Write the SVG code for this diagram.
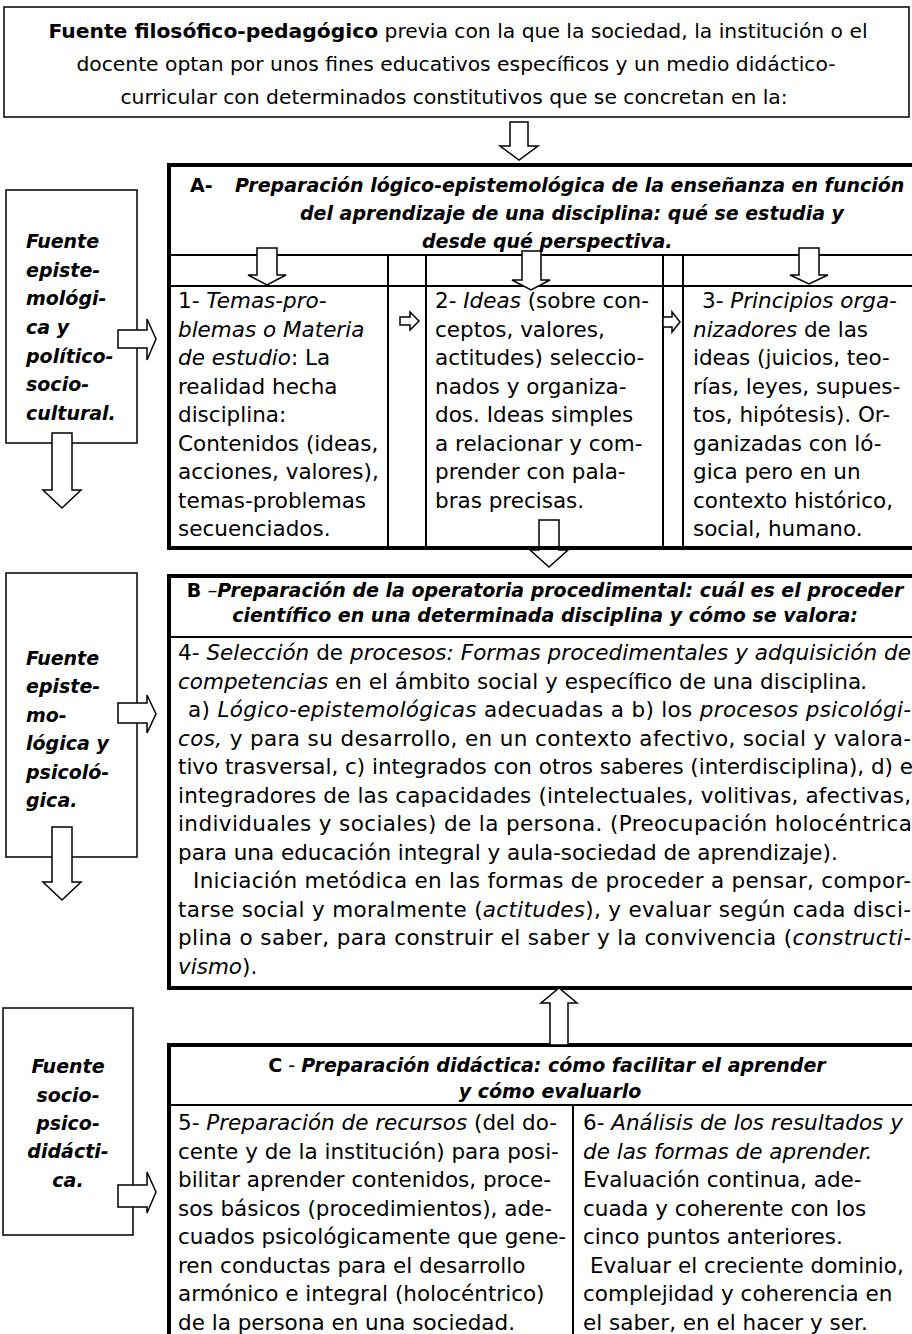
<svg xmlns="http://www.w3.org/2000/svg" width="912" height="1334" viewBox="0 0 912 1334">
<style>
.box{fill:#fff;stroke:#000;stroke-width:1.5}
.main{fill:#fff;stroke:#000;stroke-width:4}
.ln{stroke:#000;stroke-width:2;fill:none}
.arr{fill:#fff;stroke:#000;stroke-width:1.5;stroke-linejoin:miter}
.arrn{fill:none;stroke:#000;stroke-width:1.5;stroke-linejoin:miter}
.t{font-family:"DejaVu Sans",Verdana,sans-serif;font-size:21.5px;fill:#000}
.h{font-family:"DejaVu Sans",Verdana,sans-serif;font-size:19px;font-weight:bold;font-style:italic;fill:#000}
.top{font-family:"DejaVu Sans",Verdana,sans-serif;font-size:20.3px;fill:#000}
.i{font-style:italic}
.b{font-weight:bold}
.up{font-style:normal}
.nb{font-style:normal;font-weight:normal}
</style>
<rect x="0" y="0" width="912" height="1334" fill="#fff"/>

<g id="node-top">
<rect class="box" x="4" y="7" width="905" height="110"/>
<text class="top" x="458" y="38" text-anchor="middle"><tspan class="b">Fuente filosófico-pedagógico</tspan> previa con la que la sociedad, la institución o el</text>
<text class="top" x="456" y="71" text-anchor="middle">docente optan por unos fines educativos específicos y un medio didáctico-</text>
<text class="top" x="454" y="104" text-anchor="middle">curricular con determinados constitutivos que se concretan en la:</text>
</g>

<g id="node-fuente1">
<rect class="box" x="6" y="190" width="131" height="253"/>
<text class="h" x="26" y="248">Fuente</text>
<text class="h" x="26" y="277">episte-</text>
<text class="h" x="26" y="305">mológi-</text>
<text class="h" x="26" y="334">ca y</text>
<text class="h" x="26" y="363">político-</text>
<text class="h" x="26" y="391">socio-</text>
<text class="h" x="26" y="420">cultural.</text>
</g>

<g id="node-fuente2">
<rect class="box" x="6" y="573" width="131" height="284"/>
<text class="h" x="26" y="665">Fuente</text>
<text class="h" x="26" y="693">episte-</text>
<text class="h" x="26" y="722">mo-</text>
<text class="h" x="26" y="750">lógica y</text>
<text class="h" x="26" y="779">psicoló-</text>
<text class="h" x="26" y="807">gica.</text>
</g>

<g id="node-fuente3">
<rect class="box" x="3" y="1008" width="130" height="227"/>
<text class="h" x="68" y="1073" text-anchor="middle">Fuente</text>
<text class="h" x="68" y="1102" text-anchor="middle">socio-</text>
<text class="h" x="68" y="1130" text-anchor="middle">psico-</text>
<text class="h" x="68" y="1158" text-anchor="middle">didácti-</text>
<text class="h" x="68" y="1187" text-anchor="middle">ca.</text>
</g>

<g id="node-A">
<rect class="main" x="169" y="165" width="760" height="383"/>
<line class="ln" x1="169" y1="255" x2="920" y2="255"/>
<line class="ln" x1="169" y1="286" x2="920" y2="286"/>
<line class="ln" x1="388" y1="255" x2="388" y2="548"/>
<line class="ln" x1="426" y1="255" x2="426" y2="548"/>
<line class="ln" x1="663" y1="255" x2="663" y2="548"/>
<line class="ln" x1="683" y1="255" x2="683" y2="548"/>
<text class="h" y="192"><tspan class="up" x="190">A-</tspan><tspan x="235">Preparación lógico-epistemológica de la enseñanza en función</tspan></text>
<text class="h" x="300" y="220">del aprendizaje de una disciplina: qué se estudia y</text>
<text class="h" x="422" y="248">desde qué perspectiva.</text>
<g id="node-A1">
<text class="t" x="178" y="308">1- <tspan class="i">Temas-pro-</tspan></text>
<text class="t i" x="178" y="336.5">blemas o Materia</text>
<text class="t" x="178" y="365"><tspan class="i">de estudio</tspan>: La</text>
<text class="t" x="178" y="393.5">realidad hecha</text>
<text class="t" x="178" y="422">disciplina:</text>
<text class="t" x="178" y="450.5">Contenidos (ideas,</text>
<text class="t" x="178" y="479">acciones, valores),</text>
<text class="t" x="178" y="507.5">temas-problemas</text>
<text class="t" x="178" y="536">secuenciados.</text>
</g>
<g id="node-A2">
<text class="t" x="435" y="308">2- <tspan class="i">Ideas</tspan> (sobre con-</text>
<text class="t" x="435" y="336.5">ceptos, valores,</text>
<text class="t" x="435" y="365">actitudes) seleccio-</text>
<text class="t" x="435" y="393.5">nados y organiza-</text>
<text class="t" x="435" y="422">dos. Ideas simples</text>
<text class="t" x="435" y="450.5">a relacionar y com-</text>
<text class="t" x="435" y="479">prender con pala-</text>
<text class="t" x="435" y="507.5">bras precisas.</text>
</g>
<g id="node-A3">
<text class="t" x="702" y="308">3- <tspan class="i">Principios orga-</tspan></text>
<text class="t" x="693" y="336.5"><tspan class="i">nizadores</tspan> de las</text>
<text class="t" x="693" y="365">ideas (juicios, teo-</text>
<text class="t" x="693" y="393.5">rías, leyes, supues-</text>
<text class="t" x="693" y="422">tos, hipótesis). Or-</text>
<text class="t" x="693" y="450.5">ganizadas con ló-</text>
<text class="t" x="693" y="479">gica pero en un</text>
<text class="t" x="693" y="507.5">contexto histórico,</text>
<text class="t" x="693" y="536">social, humano.</text>
</g>
</g>

<g id="node-B">
<rect class="main" x="169" y="576" width="760" height="412"/>
<line class="ln" x1="169" y1="637" x2="920" y2="637" stroke-width="3"/>
<text class="h" x="545" y="597" text-anchor="middle"><tspan class="up">B </tspan><tspan class="nb">–</tspan>Preparación de la operatoria procedimental: cuál es el proceder</text>
<text class="h" x="545" y="622" text-anchor="middle">científico en una determinada disciplina y cómo se valora:</text>
<text class="t" x="178" y="660" textLength="733" lengthAdjust="spacing">4- <tspan class="i">Selección</tspan> de <tspan class="i">procesos: Formas procedimentales y adquisición de</tspan></text>
<text class="t" x="178" y="688.5"><tspan class="i">competencias</tspan> en el ámbito social y específico de una disciplina<tspan class="i">.</tspan></text>
<text class="t" x="188" y="717" textLength="723" lengthAdjust="spacing">a) <tspan class="i">Lógico-epistemológicas</tspan> adecuadas a b) los <tspan class="i">procesos psicológi-</tspan></text>
<text class="t" x="178" y="745.5" textLength="733" lengthAdjust="spacing"><tspan class="i">cos,</tspan> y para su desarrollo, en un contexto afectivo, social y valora-</text>
<text class="t" x="178" y="774" textLength="735" lengthAdjust="spacing">tivo trasversal, c) integrados con otros saberes (interdisciplina), d) e</text>
<text class="t" x="178" y="802.5" textLength="733" lengthAdjust="spacing">integradores de las capacidades (intelectuales, volitivas, afectivas,</text>
<text class="t" x="178" y="831" textLength="734" lengthAdjust="spacing">individuales y sociales) de la persona. (Preocupación holocéntrica</text>
<text class="t" x="178" y="859.5">para una educación integral y aula-sociedad de aprendizaje).</text>
<text class="t" x="193" y="888" textLength="718" lengthAdjust="spacing">Iniciación metódica en las formas de proceder a pensar, compor-</text>
<text class="t" x="178" y="916.5" textLength="733" lengthAdjust="spacing">tarse social y moralmente (<tspan class="i">actitudes</tspan>), y evaluar según cada disci-</text>
<text class="t" x="178" y="945" textLength="733" lengthAdjust="spacing">plina o saber, para construir el saber y la convivencia (<tspan class="i">constructi-</tspan></text>
<text class="t" x="178" y="973.5"><tspan class="i">vismo</tspan>).</text>
</g>

<g id="node-C">
<rect class="main" x="169" y="1045" width="760" height="300"/>
<line class="ln" x1="169" y1="1105" x2="920" y2="1105" stroke-width="2.5"/>
<line class="ln" x1="573" y1="1105" x2="573" y2="1340"/>
<text class="h" x="547" y="1072" text-anchor="middle"><tspan class="up">C</tspan><tspan class="nb"> - </tspan>Preparación didáctica: cómo facilitar el aprender</text>
<text class="h" x="550" y="1098" text-anchor="middle">y cómo evaluarlo</text>
<g id="node-C5">
<text class="t" x="178" y="1130">5- <tspan class="i">Preparación de recursos</tspan> (del do-</text>
<text class="t" x="178" y="1158.5">cente y de la institución) para posi-</text>
<text class="t" x="178" y="1187">bilitar aprender contenidos, proce-</text>
<text class="t" x="178" y="1215.5">sos básicos (procedimientos), ade-</text>
<text class="t" x="178" y="1244">cuados psicológicamente que gene-</text>
<text class="t" x="178" y="1272.5">ren conductas para el desarrollo</text>
<text class="t" x="178" y="1301">armónico e integral (holocéntrico)</text>
<text class="t" x="178" y="1329.5">de la persona en una sociedad.</text>
</g>
<g id="node-C6">
<text class="t" x="583" y="1130">6- <tspan class="i">Análisis de los resultados y</tspan></text>
<text class="t i" x="583" y="1158.5">de las formas de aprender.</text>
<text class="t" x="583" y="1187">Evaluación continua, ade-</text>
<text class="t" x="583" y="1215.5">cuada y coherente con los</text>
<text class="t" x="583" y="1244">cinco puntos anteriores.</text>
<text class="t" x="590" y="1272.5">Evaluar el creciente dominio,</text>
<text class="t" x="583" y="1301">complejidad y coherencia en</text>
<text class="t" x="583" y="1329.5">el saber, en el hacer y ser.</text>
</g>
</g>

<g id="connectors">
<polygon class="arr" points="510,122 528,122 528,146 538,146 519,160 500,146 510,146"/>
<polygon class="arr" points="257,248 277,248 277,275 286,275 267,285 248,275 257,275"/>
<polygon class="arr" points="522,251 541,251 541,280 550,280 531,290 512,280 522,280"/>
<polygon class="arr" points="799,248 819,248 819,275 828,275 809,284 790,275 799,275"/>
<polygon class="arr" points="400,317 410,317 410,312 419,321 410,330 410,325 400,325"/>
<polygon class="arr" points="663,317 672,317 672,312 680,322 672,332 672,327 663,327"/>
<polygon class="arrn" points="539,520 559,520 559,550 568,550 549,567 530,550 539,550"/>
<polygon class="arr" points="550,1045 568,1045 568,1003 577,1003 559,988 541,1003 550,1003"/>
<polygon class="arr" points="118,330 147,330 147,319 156,339 147,360 147,348 118,348"/>
<polygon class="arr" points="118,703 147,703 147,695 156,714 147,733 147,723 118,723"/>
<polygon class="arr" points="118,1185 147,1185 147,1172 156,1192 147,1213 147,1207 118,1207"/>
<polygon class="arr" points="52,433 72,433 72,490 81,490 62,508 43,490 52,490"/>
<polygon class="arr" points="52,827 72,827 72,882 81,882 62,900 43,882 52,882"/>
</g>
</svg>
